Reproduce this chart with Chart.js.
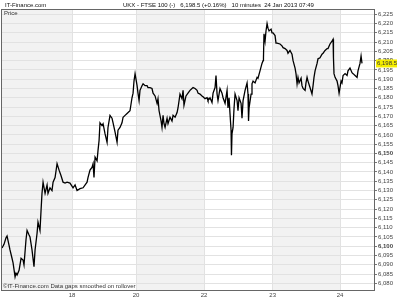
<!DOCTYPE html>
<html><head><meta charset="utf-8">
<script src="https://cdn.jsdelivr.net/npm/chart.js@4"></script>
<style>html,body{margin:0;padding:0;background:#fff}#wrap{width:400px;height:300px}</style>
</head><body><div id="wrap"><canvas id="c" width="400" height="300"></canvas></div>
<script>
// trading minutes since the start of the window (10-minute bars)
const times = [0,15,30,38,53,60,75,83,98,105,113,128,143,158,165,180,188,203,210,225,240,248,263,270,285,293,300,308,323,338,345,360,375,383,398,413,428,443,458,473,488,510,
533,548,563,585,608,638,645,660,675,683,690,698,713,720,728,735,750,758,773,788,795,810,825,833,848,863,870,885,900,908,923,938,945,960,975,983,990,998,
1013,1020,1028,1035,1050,1058,1073,1088,1095,1110,1125,1133,1148,1163,1170,1178,1193,1200,1208,1215,1223,1238,1245,1260,1275,1283,1298,1313,1320,1335,1350,1358,1365,1380,1395,1410,1425,1433,1448,1463,1470,1485,1500,1508,
1523,1538,1545,1560,1575,1583,1598,1605,1613,1620,1635,1650,1658,1673,1688,1695,1703,1710,1718,1721,1725,1733,1740,1748,1763,1770,1778,1793,1800,1808,1823,1838,1845,1849,1853,1868,1875,1883,1898,1913,1920,1935,1950,1958,1961,1965,1973,1980,1988,1995,2003,2018,2025,
2033,2048,2055,2063,2085,2100,2108,2123,2138,2145,2160,2175,2183,2198,2205,2213,2220,2228,2243,2250,2258,2273,2280,2288,2295,2310,2325,2333,2340,2348,2363,2370,2385,2400,2408,2423,2438,2445,2460,2475,2483,2486,2490,2498,2513,2520,2528,
2543,2550,2558,2573,2588,2595,2610,2625,2633,2648,2663,2670,2685,2693,2700];
const prices = [6099,6101,6104.5,6105.5,6100.5,6098,6093.5,6091,6083.5,6085.5,6084.5,6087,6093.5,6092.5,6090,6103.5,6108.5,6106,6105,6098,6089,6098,6107,6113,6108.5,6119.5,6128.5,6134.5,6128.5,6133,6128.5,6131.5,6130,6134.5,6137,6144.5,6141,6138,6134.5,6134,6134.5,6134,
6131.5,6133,6130,6131,6131.5,6134.5,6137,6141,6142.5,6144.5,6137,6148,6146,6151.5,6157,6166.5,6165,6166,6160.5,6156,6164,6170.5,6169,6166.5,6161.5,6156,6162.5,6164,6166.5,6169.5,6170.5,6171.5,6171.5,6173,6180,6182.5,6189,6193,
6186.5,6182.5,6178.5,6184,6186.5,6187.5,6186.5,6186.5,6185.5,6185.5,6185,6182.5,6181,6177,6179.5,6173,6167.5,6164,6170.5,6166,6164,6169,6166,6169.5,6167.5,6170.5,6169.5,6172,6174.5,6182,6179.5,6184,6176,6181,6182.5,6184,6185,6185.5,6185,6184,6182.5,6182,6181,6180.5,
6179.5,6180,6178.5,6180,6177.5,6182.5,6185.5,6192,6182,6178.5,6185,6182.5,6180,6177,6184,6174.5,6180,6171.5,6162.5,6149,6160.5,6164,6174,6182,6178.5,6173,6180,6177,6169,6178.5,6184,6188,6182,6167.5,6174.5,6182,6187.5,6189,6188,6191,6190.5,6194.5,6198.5,6200,6201.5,6214.5,6210.5,6216,6220,6217.5,6216,6217,6215,
6215,6213.5,6209.5,6209.5,6209,6208,6207,6206.5,6205.5,6204,6205.5,6203.5,6200,6196,6193,6187.5,6191,6188,6190.5,6186.5,6185,6184,6188,6191,6189,6185.5,6182,6186.5,6191,6194.5,6198.5,6201,6201.5,6203.5,6204,6205.5,6206.5,6206.5,6209,6210.5,6211.5,6201.5,6193,6191,6189,6186.5,6182.5,
6189,6188,6192,6193,6192,6194.5,6196,6193.5,6193,6192,6191,6194.5,6198.5,6202.5,6198.5];
const dayStarts = [525,1005,1515,2030,2535];
const dayLabels = ['18','20','22','23','24'];
const bandEdges = [0,525,1005,1515,2030,2535,2790];
const yTickValues = [6080,6085,6090,6095,6100,6105,6110,6115,6120,6125,6130,6135,6140,6145,6150,6155,6160,6165,6170,6175,6180,6185,6190,6195,6200,6205,6210,6215,6220,6225];
const lastPrice = 6198.5;
const siteName = 'IT-Finance.com';
const titleText = 'UKX - FTSE 100 (-)   6,198.5 (+0.16%)   10 minutes  24 Jan 2013 07:49';
const priceLabel = 'Price';
const footText = '\u00A9IT-Finance.com Data gaps smoothed on rollover';

const FONT = 'Liberation Sans, Arial, sans-serif';
const points = times.map((t,i)=>({x:t,y:prices[i]}));

const deco = {
  id:'deco',
  beforeDraw(chart){
    const {ctx, chartArea:ca, scales:{x}} = chart;
    ctx.save();
    ctx.fillStyle='#fff'; ctx.fillRect(0,0,chart.width,chart.height);
    for(let i=0;i<bandEdges.length-1;i++){
      if(i%2===0){
        const a=x.getPixelForValue(bandEdges[i]), b=x.getPixelForValue(bandEdges[i+1]);
        ctx.fillStyle='#f2f2f2';
        ctx.fillRect(a,ca.top,b-a,ca.bottom-ca.top);
      }
    }
    ctx.restore();
  },
  afterDraw(chart){
    const {ctx, chartArea:ca, scales:{y}} = chart;
    ctx.save();
    ctx.strokeStyle='#666'; ctx.lineWidth=1;
    ctx.strokeRect(Math.round(ca.left)-0.5, Math.round(ca.top)-0.5, Math.round(ca.right-ca.left)+1, Math.round(ca.bottom-ca.top)+1);
    ctx.fillStyle='#111'; ctx.textBaseline='middle'; ctx.textAlign='left';
    ctx.font='6px '+FONT;
    ctx.fillText(siteName,5,5);
    ctx.fillText(titleText,123,5);
    ctx.fillStyle='#333';
    ctx.fillText(priceLabel,4,13);
    ctx.fillText(footText,3,286);
    const py=y.getPixelForValue(lastPrice);
    ctx.fillStyle='#f5ee00';
    ctx.fillRect(376,py-4,21,8);
    ctx.fillStyle='#333';
    ctx.fillText('6,198.5',377,py);
    ctx.restore();
  }
};

new Chart(document.getElementById('c'),{
  type:'line',
  data:{datasets:[{data:points,borderColor:'#000',borderWidth:1.3,pointRadius:0,tension:0,fill:false}]},
  options:{
    responsive:false, animation:false, devicePixelRatio:1,
    layout:{padding:{left:2,top:10,right:0,bottom:0}},
    plugins:{legend:{display:false},tooltip:{enabled:false}},
    scales:{
      x:{type:'linear',min:0,max:2790,
        afterBuildTicks(s){s.ticks=dayStarts.map(v=>({value:v}));},
        afterFit(s){s.height=10;},
        ticks:{autoSkip:false,maxRotation:0,padding:2,color:'#444',font:{family:FONT,size:6},
          callback:(v,i)=>dayLabels[i]},
        grid:{color:'#e2e2e2',drawTicks:false},
        border:{display:false}},
      y:{position:'right',min:6076.4,max:6227.3,
        afterBuildTicks(s){s.ticks=yTickValues.map(v=>({value:v}));},
        afterFit(s){s.width=26;},
        ticks:{autoSkip:false,padding:1,color:'#444',
          font:(c)=>({family:FONT,size:6,weight:(c.tick&&c.tick.value%50===0)?'bold':'normal'}),
          callback:(v)=>v.toLocaleString('en-US')},
        grid:{color:'#e2e2e2',tickColor:'#777',tickLength:3},
        border:{display:false}}
    }
  },
  plugins:[deco]
});
</script></body></html>
